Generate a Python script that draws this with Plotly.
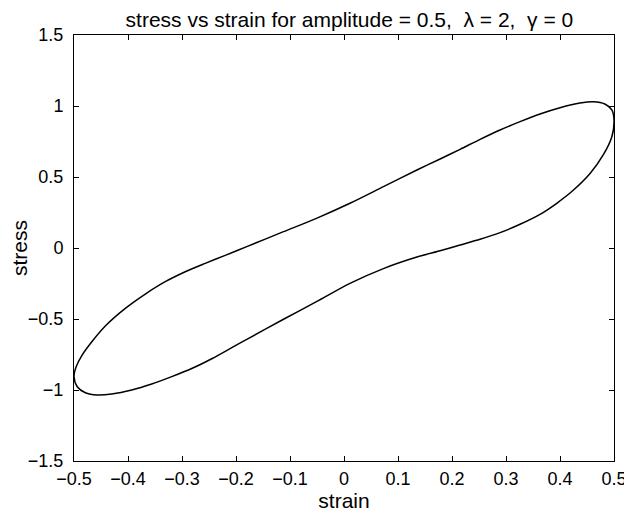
import plotly.graph_objects as go

# Loop: start at right tip, lower branch leftwards, upper branch back
strain = [0.500, 0.496, 0.480, 0.456, 0.425, 0.394, 0.363, 0.326, 0.289, 0.252, 0.215, 0.178,
          0.135, 0.073, 0.011, -0.051, -0.112, -0.180, -0.207, -0.244, -0.281, -0.319, -0.356,
          -0.393, -0.430, -0.457, -0.479, -0.494, -0.500, -0.496, -0.485, -0.467, -0.442, -0.405,
          -0.368, -0.331, -0.294, -0.257, -0.220, -0.180, -0.112, -0.051, 0.011, 0.073, 0.135,
          0.178, 0.215, 0.252, 0.289, 0.326, 0.363, 0.400, 0.437, 0.462, 0.483, 0.496, 0.500]
stress = [0.901, 0.784, 0.655, 0.526, 0.408, 0.315, 0.237, 0.167, 0.108, 0.061, 0.021, -0.019,
          -0.064, -0.145, -0.249, -0.378, -0.502, -0.643, -0.700, -0.778, -0.847, -0.906, -0.958,
          -1.000, -1.028, -1.035, -1.019, -0.977, -0.906, -0.836, -0.754, -0.660, -0.549, -0.425,
          -0.324, -0.237, -0.167, -0.108, -0.052, 0.010, 0.115, 0.209, 0.315, 0.432, 0.549,
          0.627, 0.695, 0.765, 0.831, 0.890, 0.944, 0.988, 1.021, 1.030, 1.014, 0.972, 0.901]

x_ticks = [-0.5, -0.4, -0.3, -0.2, -0.1, 0, 0.1, 0.2, 0.3, 0.4, 0.5]
y_ticks = [-1.5, -1, -0.5, 0, 0.5, 1, 1.5]

font = "Liberation Sans, Arial, Helvetica, sans-serif"

fig = go.Figure()
fig.add_trace(go.Scatter(x=strain, y=stress, mode="lines",
                         line=dict(color="black", width=1.5, shape="spline", smoothing=0.8),
                         showlegend=False, hoverinfo="skip"))

axis_common = dict(showgrid=False, zeroline=False, showline=True, linecolor="black",
                   linewidth=1, mirror="ticks", ticks="inside", ticklen=5,
                   tickcolor="black", tickwidth=1, automargin=False,
                   tickfont=dict(family=font, size=18, color="black"))

# the page body adds an 8px offset, so the figure is 8px smaller than the window
W, H = 624, 506
fig.update_layout(
    width=W, height=H,
    margin=dict(l=66, r=18, t=27, b=53),
    paper_bgcolor="white", plot_bgcolor="white",
    font=dict(family=font, color="black"),
    title=dict(text="stress vs strain for amplitude = 0.5,  \u03bb = 2,  \u03b3 = 0",
               x=0.51, xref="paper", y=1, yref="container",
               xanchor="center", yanchor="top", pad=dict(t=4),
               font=dict(family=font, size=21, color="black")),
    xaxis=dict(range=[-0.5, 0.5], tickvals=x_ticks, ticklabelstandoff=1,
               title=dict(text="strain", font=dict(family=font, size=21), standoff=2),
               **axis_common),
    yaxis=dict(range=[-1.5, 1.5], tickvals=y_ticks, ticklabelstandoff=6,
               title=dict(text="stress", font=dict(family=font, size=21), standoff=2),
               **axis_common),
)

fig.write_html("out.html")
